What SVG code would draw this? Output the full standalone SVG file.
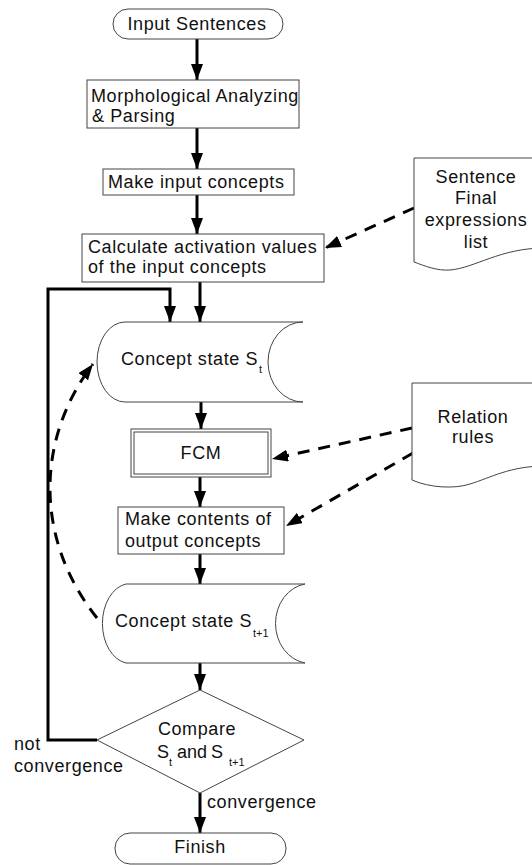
<svg xmlns="http://www.w3.org/2000/svg" width="532" height="865" viewBox="0 0 532 865">
<defs>
<marker id="ah" viewBox="0 0 16 12" refX="16" refY="6" markerWidth="16" markerHeight="12" markerUnits="userSpaceOnUse" orient="auto">
<path d="M0,0 L16,6 L0,12 z" fill="#000"/>
</marker>
</defs>
<style>
.nd{fill:#fff;stroke:#444;stroke-width:1}
.t{font-family:"Liberation Sans",Arial,sans-serif;font-size:18px;letter-spacing:0.6px;fill:#111}
.s{font-family:"Liberation Sans",Arial,sans-serif;font-size:11px;fill:#111}
.m{text-anchor:middle}
.ar{fill:none;stroke:#000;stroke-width:3;marker-end:url(#ah)}
.da{fill:none;stroke:#000;stroke-width:3;stroke-dasharray:12 9;marker-end:url(#ah)}
</style>
<rect width="532" height="865" fill="#fff"/>
<g id="connectors">
<path class="ar" d="M197,39 V80"/>
<path class="ar" d="M197,128 V169"/>
<path class="ar" d="M197,195 V234"/>
<path class="ar" d="M200,282 V322"/>
<path class="ar" d="M97,740 H48 V289 H170 V322"/>
<path class="ar" d="M201,402 V429"/>
<path class="ar" d="M200,477 V507"/>
<path class="ar" d="M200,554 V584"/>
<path class="ar" d="M200,663 V690"/>
<path class="ar" d="M200,793 V833"/>
<path class="da" d="M414,208 L325,248"/>
<path class="da" d="M412,428 L272,459"/>
<path class="da" d="M413,453 L286,526"/>
<path class="da" d="M97,618 C35,540 35,440 93,364"/>
</g>
<g id="input">
<rect class="nd" x="113" y="9" width="170" height="30" rx="15"/>
<text class="t m" x="197" y="30">Input Sentences</text>
</g>
<g id="morph">
<rect class="nd" x="87" y="80" width="212" height="48"/>
<text class="t" x="91" y="102">Morphological Analyzing</text>
<text class="t" x="92" y="122"> &amp; Parsing</text>
</g>
<g id="makeinput">
<rect class="nd" x="103" y="169" width="191" height="26"/>
<text class="t" x="108" y="188">Make input concepts</text>
</g>
<g id="calc">
<rect class="nd" x="82" y="234" width="242" height="48"/>
<text class="t" x="88" y="253">Calculate activation values</text>
<text class="t" x="88" y="273">of the input concepts</text>
</g>
<g id="sentlist">
<path class="nd" d="M414,158 H545 V248 C500,248 475,268 450,270 C437,271 425,266 414,262 Z"/>
<text class="t m" x="476" y="183">Sentence</text>
<text class="t m" x="476" y="204">Final</text>
<text class="t m" x="476" y="226">expressions</text>
<text class="t m" x="476" y="248">list</text>
</g>
<g id="st">
<path class="nd" d="M125,322 H303 A35,40 0 0 0 303,402 H125 A28,40 0 0 1 125,322 Z"/>
<text class="t" x="121" y="365">Concept state S</text>
<text class="s" x="259" y="373">t</text>
</g>
<g id="fcm">
<rect class="nd" x="131" y="429" width="140" height="48"/>
<rect class="nd" x="134" y="432" width="134" height="42"/>
<text class="t m" x="201" y="459">FCM</text>
</g>
<g id="relrules">
<path class="nd" d="M412,383 H545 V466 C510,466 490,478 470,484 C455,489 430,488 412,480 Z"/>
<text class="t m" x="473" y="423">Relation</text>
<text class="t m" x="473" y="443">rules</text>
</g>
<g id="makecontents">
<rect class="nd" x="118" y="507" width="166" height="47"/>
<text class="t" x="125" y="525">Make contents of</text>
<text class="t" x="125" y="547">output concepts</text>
</g>
<g id="st1">
<path class="nd" d="M126,584 H305 A35,40 0 0 0 305,663 H126 A28,40 0 0 1 126,584 Z"/>
<text class="t" x="115" y="627">Concept state S</text>
<text class="s" x="253" y="637">t+1</text>
</g>
<g id="compare">
<polygon class="nd" points="200,690 304,740 200,793 97,740"/>
<text class="t m" x="197" y="735">Compare</text>
<text class="t" x="157" y="758">S</text>
<text class="s" x="169" y="766">t</text>
<text class="t" x="177" y="758" style="letter-spacing:0">and</text>
<text class="t" x="211" y="758">S</text>
<text class="s" x="229" y="766">t+1</text>
</g>
<g id="labels">
<text class="t" x="14" y="750">not</text>
<text class="t" x="14" y="772">convergence</text>
<text class="t" x="207" y="808">convergence</text>
</g>
<g id="finish">
<rect class="nd" x="115" y="833" width="171" height="31" rx="15"/>
<text class="t m" x="200" y="853">Finish</text>
</g>
</svg>
